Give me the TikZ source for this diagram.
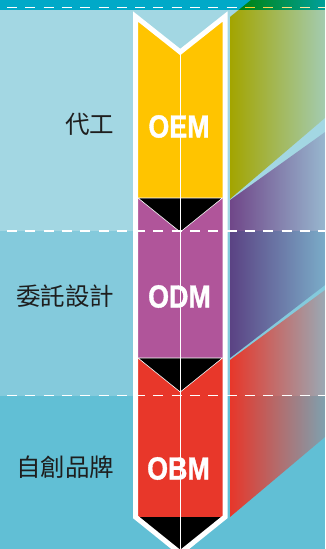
\documentclass[tikz,border=0pt]{standalone}
\usepackage{fontspec}
\newfontfamily\cjkfont{Noto Sans CJK TC}
\newfontfamily\labfont[FakeBold=1.3]{Liberation Sans}
\usetikzlibrary{fadings}
\definecolor{stripc}{HTML}{00A9C8}
\definecolor{bandA}{HTML}{A3D7E3}
\definecolor{bandB}{HTML}{84CADC}
\definecolor{bandC}{HTML}{61BFD5}
\definecolor{pencilY}{HTML}{FFC400}
\definecolor{pencilP}{HTML}{B0559A}
\definecolor{pencilR}{HTML}{E8372A}
\definecolor{labelink}{HTML}{1E1E1E}
\tikzfading[name=panelfade, left color=transparent!0, middle color=transparent!20, right color=transparent!78]
\begin{document}
\begin{tikzpicture}[x=1pt,y=-1pt,
  cjk/.style={font=\cjkfont\fontsize{24.5}{26}\selectfont, text=labelink, anchor=east, inner sep=0pt},
  code/.style={font=\labfont\bfseries\fontsize{32}{34}\selectfont, text=white, inner sep=0pt},
  bandline/.style={white, line width=1.5pt, dash pattern=on 10pt off 8.3pt},
  panel/.style={path fading=panelfade},
  thinwhite/.style={white, line width=0.7pt},
  tipstyle/.style={fill=black, draw=white, line width=0.6pt, line join=miter}]
\useasboundingbox (0,0) rectangle (325,549);
\clip (0,0) rectangle (325,549);
% background bands
\fill[stripc] (0,0) rectangle (325,9.5);
\fill[bandA] (0,9.5) rectangle (325,231);
\fill[bandB] (0,231) rectangle (325,395.5);
\fill[bandC] (0,395.5) rectangle (325,549);
\draw[bandline] (7,7.3) -- (325,7.3);
% projected panels
\begin{scope}[blend mode=multiply]
\fill[pencilY, panel] (230,17) -- (325,-60) -- (325,118) -- (230,199) -- cycle;
\fill[pencilP, panel] (230,200) -- (325,132) -- (325,285) -- (230,358) -- cycle;
\end{scope}
\fill[pencilR, panel] (230,360) -- (325,290) -- (325,437) -- (230,517) -- cycle;
% pencil body
\fill[pencilY] (135.5,16.5) -- (180.25,52) -- (225,16.5) -- (225,198) -- (135.5,198) -- cycle;
\fill[pencilP] (135.5,198) rectangle (225,358);
\fill[pencilR] (135.5,358) rectangle (225,517);
\fill[black] (135.5,517) -- (225,517) -- (180.25,553) -- cycle;
\filldraw[tipstyle] (138,198) -- (222.5,198) -- (180.25,232) -- cycle;
\filldraw[tipstyle] (138,358) -- (222.5,358) -- (180.25,392) -- cycle;
\draw[white, line width=5pt, line join=miter] (135.5,16.5) -- (180.25,52) -- (225,16.5) -- (225,517) -- (180.25,553) -- (135.5,517) -- cycle;
\draw[thinwhite] (180.25,52) -- (180.25,553);
% dashed band lines
\draw[bandline] (7,231) -- (325,231);
\draw[bandline] (7,395.5) -- (325,395.5);
% labels
\node[code] (oem) at (179,126.5) {\scalebox{0.84}[1]{OEM}};
\node[code] (odm) at (179.5,296.5) {\scalebox{0.84}[1]{ODM}};
\node[code] (obm) at (178.5,468.5) {\scalebox{0.84}[1]{OBM}};
\node[cjk] (l1) at (114.5,124) {代工};
\node[cjk] (l2) at (114.5,296) {委託設計};
\node[cjk] (l3) at (114.5,467) {自創品牌};
\end{tikzpicture}
\end{document}
